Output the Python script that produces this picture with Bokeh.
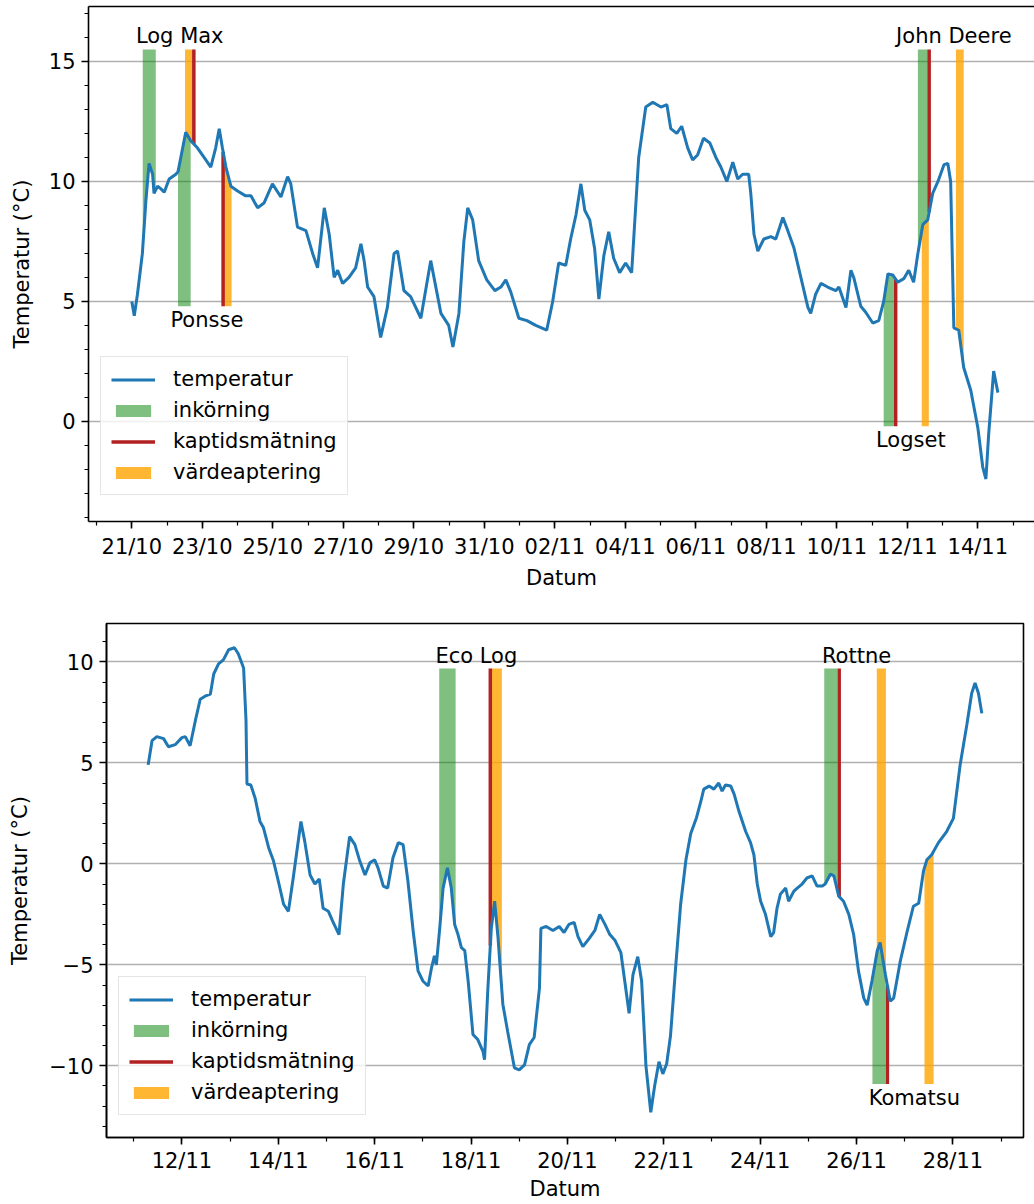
import numpy as np
import pandas as pd
from bokeh.plotting import figure
from bokeh.layouts import column
from bokeh.models import (Range1d, FixedTicker, DatetimeTickFormatter, Legend,
                          LegendItem, LinearAxis)
from bokeh.core.properties import value
from bokeh.embed import file_html
from bokeh.resources import INLINE

FONT = "DejaVu Sans"
FS = "21px"

# ---------------------------------------------------------------- period 1
start1 = pd.Timestamp("2022-10-21")
# days since 21/10 00:00 and temperature (°C)
dagar1 = [0.00, 0.07, 0.16, 0.30, 0.40, 0.49, 0.59, 0.63, 0.73, 0.82, 0.92, 1.06, 1.25, 1.31,
          1.39, 1.53, 1.67, 1.86, 2.05, 2.24, 2.38, 2.48, 2.57, 2.67, 2.81, 3.00, 3.23, 3.38,
          3.57, 3.75, 3.99, 4.23, 4.42, 4.51, 4.70, 4.94, 5.13, 5.27, 5.46, 5.60, 5.74, 5.84,
          5.98, 6.16, 6.35, 6.50, 6.59, 6.69, 6.87, 7.06, 7.25, 7.44, 7.54, 7.72, 7.91, 8.20,
          8.48, 8.77, 8.99, 9.11, 9.28, 9.42, 9.53, 9.67, 9.84, 10.07, 10.30, 10.47, 10.61,
          10.75, 10.98, 11.21, 11.46, 11.77, 11.94, 12.11, 12.31, 12.45, 12.60, 12.74, 12.85,
          12.99, 13.13, 13.25, 13.39, 13.53, 13.67, 13.84, 14.01, 14.18, 14.38, 14.58, 14.78,
          15.01, 15.18, 15.29, 15.46, 15.60, 15.77, 15.91, 16.05, 16.22, 16.40, 16.57, 16.71,
          16.88, 17.05, 17.19, 17.33, 17.50, 17.56, 17.65, 17.76, 17.93, 18.13, 18.27, 18.47,
          18.61, 18.78, 18.98, 19.18, 19.26, 19.40, 19.55, 19.74, 19.97, 20.06, 20.26, 20.40,
          20.48, 20.68, 20.82, 21.02, 21.19, 21.33, 21.45, 21.59, 21.73, 21.90, 22.04, 22.18,
          22.30, 22.44, 22.58, 22.72, 22.87, 23.04, 23.15, 23.23, 23.32, 23.46, 23.60, 23.80,
          24.00, 24.14, 24.23, 24.31, 24.45, 24.57]
temp1 = [5.0, 4.4, 5.3, 7.0, 9.2, 10.75, 10.3, 9.5, 9.8, 9.7, 9.55, 10.1, 10.3, 10.4,
         11.0, 12.05, 11.7, 11.4, 11.0, 10.6, 11.4, 12.2, 11.4, 10.6, 9.8, 9.6, 9.4, 9.4,
         8.9, 9.1, 9.9, 9.35, 10.2, 9.9, 8.1, 7.95, 7.0, 6.4, 8.9, 7.8, 6.0, 6.3,
         5.75, 6.0, 6.4, 7.4, 6.7, 5.6, 5.2, 3.5, 4.75, 7.0, 7.1, 5.45, 5.2, 4.3,
         6.7, 4.5, 4.0, 3.1, 4.5, 7.5, 8.9, 8.4, 6.7, 5.9, 5.45, 5.6, 5.9,
         5.4, 4.3, 4.2, 4.0, 3.8, 5.0, 6.6, 6.5, 7.6, 8.6, 9.9, 8.8,
         8.4, 7.2, 5.1, 6.9, 7.9, 6.8, 6.2, 6.6, 6.2, 11.0, 13.1, 13.3,
         13.1, 13.2, 12.2, 12.0, 12.3, 11.4, 10.9, 11.1, 11.8, 11.6, 11.0, 10.6,
         10.0, 10.8, 10.1, 10.3, 10.3, 9.5, 7.8, 7.1, 7.6, 7.7, 7.6, 8.5,
         7.95, 7.25, 6.0, 4.75, 4.5, 5.3, 5.75, 5.6, 5.45, 5.6, 4.75, 6.3,
         6.0, 4.8, 4.55, 4.1, 4.2, 5.0, 6.15, 6.1, 5.8, 5.95, 6.3, 5.8,
         7.0, 8.2, 8.4, 9.5, 10.0, 10.7, 10.75, 10.0, 3.9, 3.8, 2.25, 1.3,
         -0.25, -1.9, -2.4, -0.5, 2.1, 1.2]

maskiner1 = ["Log Max", "Ponsse", "John Deere", "Logset"]
niva1 = [15.5, 4.8, 15.5, -0.2]
etikett_dag1 = [1.36, 2.13, 23.32, 22.10]
inkorning_fran1 = [0.31, 1.31, 22.30, 21.33]
inkorning_till1 = [0.68, 1.67, 22.58, 21.62]
kaptid_dag1 = [1.76, 2.59, 22.62, 21.67]
varde_fran1 = [1.51, 2.62, 23.38, 22.41]
varde_till1 = [1.72, 2.83, 23.60, 22.61]
yticks1 = [0, 5, 10, 15]
forsta_datum1 = 0     # first labelled date: 21/10

# ---------------------------------------------------------------- period 2
start2 = pd.Timestamp("2022-11-11")
# days since 11/11 00:00 and temperature (°C)
dagar2 = [0.30, 0.38, 0.48, 0.62, 0.72, 0.86, 1.00, 1.07, 1.17, 1.28, 1.38, 1.48, 1.59, 1.66,
          1.76, 1.86, 1.97, 2.09, 2.17, 2.28, 2.33, 2.35, 2.43, 2.52, 2.62, 2.69, 2.80, 2.90,
          3.00, 3.11, 3.21, 3.31, 3.47, 3.55, 3.66, 3.76, 3.85, 3.93, 4.04, 4.14, 4.26, 4.35,
          4.48, 4.59, 4.69, 4.80, 4.90, 5.00, 5.07, 5.18, 5.27, 5.38, 5.49, 5.59, 5.69, 5.80,
          5.90, 6.00, 6.11, 6.18, 6.24, 6.28, 6.35, 6.42, 6.51, 6.59, 6.66, 6.73, 6.80, 6.87,
          6.94, 7.04, 7.14, 7.25, 7.28, 7.35, 7.42, 7.49, 7.56, 7.66, 7.76, 7.90, 8.00, 8.11,
          8.21, 8.31, 8.42, 8.45, 8.56, 8.70, 8.83, 8.93, 9.03, 9.14, 9.22, 9.32, 9.45, 9.57,
          9.67, 9.78, 9.88, 9.99, 10.11, 10.19, 10.28, 10.36, 10.46, 10.54, 10.63, 10.73, 10.81,
          10.90, 10.98, 11.06, 11.14, 11.25, 11.35, 11.46, 11.56, 11.68, 11.77, 11.83, 11.94,
          12.04, 12.14, 12.21, 12.28, 12.39, 12.46, 12.56, 12.70, 12.80, 12.87, 12.94, 13.01,
          13.11, 13.22, 13.28, 13.35, 13.42, 13.53, 13.59, 13.70, 13.77, 13.87, 13.97, 14.08,
          14.18, 14.29, 14.35, 14.46, 14.53, 14.63, 14.73, 14.84, 14.94, 15.04, 15.15, 15.22,
          15.32, 15.43, 15.49, 15.60, 15.70, 15.77, 15.91, 16.05, 16.18, 16.29, 16.39, 16.46,
          16.56, 16.70, 16.87, 17.01, 17.15, 17.29, 17.39, 17.46, 17.53, 17.60]
temp2 = [4.9, 6.1, 6.3, 6.2, 5.8, 5.9, 6.25, 6.3, 5.85, 7.1, 8.15, 8.3, 8.4, 9.4,
         9.9, 10.1, 10.6, 10.7, 10.4, 9.7, 7.1, 3.95, 3.9, 3.25, 2.1, 1.8, 0.8, 0.15,
         -0.85, -2.0, -2.35, -0.7, 2.1, 1.1, -0.55, -1.0, -0.75, -2.2, -2.35, -2.9, -3.5, -1.0,
         1.35, 0.95, 0.15, -0.55, 0.05, 0.2, -0.2, -1.1, -1.2, 0.3, 1.05, 0.95, -0.85, -3.35,
         -5.3, -5.8, -6.05, -5.15, -4.55, -5.0, -3.2, -1.2, -0.2, -1.2, -3.0, -3.5, -4.15, -4.3,
         -5.8, -8.45, -8.7, -9.3, -9.7, -6.15, -3.2, -1.85, -3.65, -6.95, -8.3, -10.1, -10.2, -9.95,
         -8.95, -8.6, -6.15, -3.2, -3.1, -3.3, -3.1, -3.4, -3.0, -2.9, -3.6, -4.1, -3.7, -3.3,
         -2.5, -3.0, -3.5, -3.8, -4.4, -5.8, -7.4, -5.5, -4.6, -5.8, -10.0, -12.3, -11.0,
         -9.8, -10.4, -9.9, -8.5, -5.0, -2.0, 0.2, 1.5, 2.3, 3.1, 3.7, 3.85,
         3.7, 4.0, 3.6, 3.9, 3.85, 3.45, 2.6, 1.6, 1.05, 0.45, -1.0, -1.85,
         -2.5, -3.6, -3.4, -2.2, -1.5, -1.2, -1.85, -1.35, -1.2, -1.0, -0.7, -0.6,
         -1.1, -1.1, -1.0, -0.5, -0.6, -1.6, -1.85, -2.5, -3.5, -5.3, -6.65, -7.0,
         -5.8, -4.3, -3.9, -5.5, -6.8, -6.65, -4.8, -3.35, -2.1, -1.95, -0.35, 0.2,
         0.45, 1.05, 1.6, 2.25, 4.9, 6.9, 8.45, 8.95, 8.45, 7.45]

maskiner2 = ["Eco Log", "Rottne", "Komatsu"]
niva2 = [9.67, 9.67, -10.9]
etikett_dag2 = [7.11, 15.00, 16.20]
inkorning_fran2 = [6.34, 14.33, 15.33]
inkorning_till2 = [6.68, 14.60, 15.60]
kaptid_dag2 = [7.40, 14.64, 15.64]
varde_fran2 = [7.42, 15.42, 16.41]
varde_till2 = [7.64, 15.61, 16.60]
yticks2 = [-10, -5, 0, 5, 10]
forsta_datum2 = 1     # first labelled date: 12/11

DAY_MS = 86400000.0


def to_ms(t0, dagar):
    return t0.value / 1e6 + np.asarray(dagar, dtype=float) * DAY_MS


def spans(t, temp, fran, till, niva):
    """Fill between the temperature curve and each machine's level."""
    xs, ys = [], []
    for a, b, n in zip(fran, till, niva):
        inne = (t > a) & (t < b)
        tx = np.concatenate([[a], t[inne], [b]])
        ty = np.interp(tx, t, temp)
        xs.append(list(tx) + list(tx[::-1]))
        ys.append(list(ty) + [n] * len(tx))
    return xs, ys


def style_axis(ax, standoff):
    ax.axis_line_width = 1.6
    ax.axis_line_color = "black"
    ax.major_tick_line_width = 1.6
    ax.minor_tick_line_width = 1.2
    ax.major_tick_out = 7
    ax.major_tick_in = 0
    ax.minor_tick_out = 4
    ax.minor_tick_in = 0
    ax.major_label_text_font = FONT
    ax.major_label_text_font_size = FS
    ax.major_label_text_color = "black"
    ax.major_label_standoff = standoff
    ax.axis_label_text_font = FONT
    ax.axis_label_text_font_size = FS
    ax.axis_label_text_font_style = "normal"
    ax.axis_label_text_color = "black"


def panel(t0, dagar, temp, maskiner, niva, etikett_dag, ink_f, ink_t, kap, vf, vt,
          yticks, forsta, y_lo, y_hi, x_cut, width, height, borders, legend_loc,
          y_label_standoff, x_label_standoffs, full_box):
    t = np.asarray(dagar, dtype=float)
    temp = np.asarray(temp, dtype=float)
    span = t[-1] - t[0]
    x0 = t[0] - 0.05 * span
    x1 = t[-1] + 0.05 * span - x_cut

    bl, br, bt, bb = borders
    p = figure(width=width, height=height, x_axis_type="datetime",
               output_backend="svg", toolbar_location=None, frame_align=False,
               x_range=Range1d(*to_ms(t0, [x0, x1])), y_range=Range1d(y_lo, y_hi),
               min_border_left=bl, min_border_right=br, min_border_top=bt,
               min_border_bottom=bb)
    p.background_fill_color = "white"
    p.border_fill_color = "white"
    if full_box:
        p.outline_line_color = "black"
        p.outline_line_width = 1.6
    else:
        # the panel runs past the right page edge: only top, left and bottom spines
        p.outline_line_color = None
        top = LinearAxis(ticker=FixedTicker(ticks=[]), major_label_text_font_size="0px",
                         axis_line_width=1.6, axis_line_color="black",
                         major_tick_line_color=None, minor_tick_line_color=None,
                         major_label_standoff=0, axis_label=None)
        p.add_layout(top, "above")

    # machine events
    xs, ys = spans(t, temp, ink_f, ink_t, niva)
    r_ink = p.patches([list(to_ms(t0, x)) for x in xs], ys, fill_color="green",
                      fill_alpha=0.5, line_color=None)
    xs, ys = spans(t, temp, vf, vt, niva)
    r_var = p.patches([list(to_ms(t0, x)) for x in xs], ys, fill_color="orange",
                      fill_alpha=0.8, line_color=None)
    kx = to_ms(t0, kap)
    r_kap = p.segment(x0=kx, y0=np.interp(kap, t, temp), x1=kx, y1=niva,
                      line_color="firebrick", line_width=3.5)

    r_line = p.line(to_ms(t0, t), temp, line_color="#1f77b4", line_width=3)

    # machine names at their level, above or below the curve
    under = [n < np.interp(d, t, temp) for d, n in zip(etikett_dag, niva)]
    for lab, d, n, u in zip(maskiner, etikett_dag, niva, under):
        p.text(x=[to_ms(t0, [d])[0]], y=[n], text=[lab], text_font=value(FONT),
               text_font_size=FS, text_color="black", text_align="center",
               text_baseline="top" if u else "bottom",
               y_offset=2 if u else -1)

    # axes
    xa = p.below[0]
    ya = p.left[0]
    lo = int(np.floor(x0)) - 1
    hi = int(np.ceil(t[-1] + 0.05 * span)) + 1
    days = np.arange(lo, hi + 1)
    major = [d for d in days if (d - forsta) % 2 == 0]
    xa.ticker = FixedTicker(ticks=list(to_ms(t0, major)), minor_ticks=list(to_ms(t0, days)))
    xa.formatter = DatetimeTickFormatter(days="%d/%m", months="%d/%m", hours="%d/%m",
                                         years="%d/%m")
    minors = list(range(int(np.floor(y_lo)), int(np.ceil(y_hi)) + 1))
    ya.ticker = FixedTicker(ticks=yticks, minor_ticks=minors)
    ya.major_label_overrides = {v: (str(v).replace("-", "\u2212")) for v in yticks}

    tick_standoff, label_standoff = x_label_standoffs
    style_axis(xa, tick_standoff)
    style_axis(ya, 6)
    xa.axis_label = "Datum"
    xa.axis_label_standoff = label_standoff
    ya.axis_label = "Temperatur (°C)"
    ya.axis_label_standoff = y_label_standoff

    p.xgrid.visible = False
    p.ygrid.grid_line_color = "#b0b0b0"
    p.ygrid.grid_line_width = 1.6

    legend = Legend(items=[LegendItem(label="temperatur", renderers=[r_line]),
                           LegendItem(label="inkörning", renderers=[r_ink]),
                           LegendItem(label="kaptidsmätning", renderers=[r_kap]),
                           LegendItem(label="värdeaptering", renderers=[r_var])],
                    location=legend_loc, margin=0, padding=10, spacing=7,
                    glyph_width=44, glyph_height=15, label_height=23, label_standoff=18,
                    label_text_font=FONT, label_text_font_size=FS,
                    label_text_color="black",
                    border_line_color="#cccccc", border_line_width=1.5,
                    background_fill_color="white", background_fill_alpha=0.8)
    p.add_layout(legend)
    return p


p1 = panel(start1, dagar1, temp1, maskiner1, niva1, etikett_dag1,
           inkorning_fran1, inkorning_till1, kaptid_dag1, varde_fran1, varde_till1,
           yticks1, forsta_datum1, -4.17, 17.29, 0.19, 1034, 600, (88, 0, 6, 79),
           (12, 26), 12, (6, 4), False)
p2 = panel(start2, dagar2, temp2, maskiner2, niva2, etikett_dag2,
           inkorning_fran2, inkorning_till2, kaptid_dag2, varde_fran2, varde_till2,
           yticks2, forsta_datum2, -13.55, 11.9, 0.0, 1034, 604, (106, 11, 23, 67),
           (12, 22), 14, (4, 1), True)

page = column(p1, p2, spacing=0)
open("out.html", "w").write(file_html(page, INLINE))
